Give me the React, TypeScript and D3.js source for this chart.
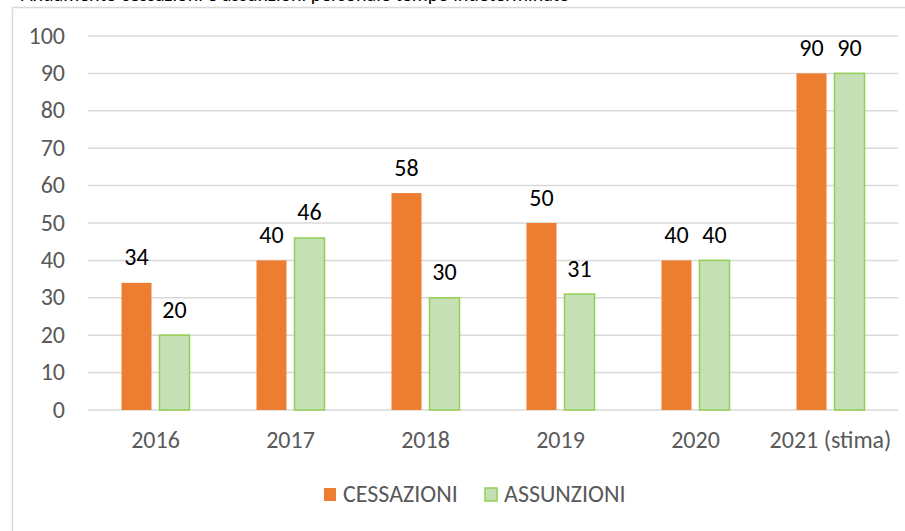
import React, { useEffect, useRef } from 'react';
import * as d3 from 'd3';

const years = ['2016', '2017', '2018', '2019', '2020', '2021 (stima)'];
const cessazioni = [34, 40, 58, 50, 40, 90];
const assunzioni = [20, 46, 30, 31, 40, 90];
const yTicks = [0, 10, 20, 30, 40, 50, 60, 70, 80, 90, 100];
const seriesNames = ['CESSAZIONI', 'ASSUNZIONI'];

const W = 905;
const H = 531;
const FONT = 'Carlito, Calibri, "Open Sans", sans-serif';
const FS = 24;

export default function App() {
    const svgRef = useRef<SVGSVGElement | null>(null);

    useEffect(() => {
        document.body.style.margin = '0';
        const svg = d3.select(svgRef.current);
        svg.selectAll('*').remove();

        // chart frame (runs off the right and bottom edges)
        svg.append('rect')
            .attr('x', 12.5).attr('y', 7.5)
            .attr('width', W).attr('height', H)
            .attr('fill', '#fff')
            .attr('stroke', '#d9d9d9')
            .attr('stroke-width', 1.5);

        // title, mostly clipped at the top
        svg.append('text')
            .attr('x', 21).attr('y', 0.5)
            .attr('font-family', FONT)
            .attr('font-size', 20)
            .attr('fill', '#000')
            .text('Andamento cessazioni e assunzioni personale tempo indeterminato');

        const x = d3.scaleBand<string>().domain(years).range([88, 898]);
        const y = d3.scaleLinear().domain([0, 100]).range([410, 36]);

        // gridlines
        svg.append('g').selectAll('line')
            .data(yTicks)
            .join('line')
            .attr('x1', 88).attr('x2', 898)
            .attr('y1', d => y(d)).attr('y2', d => y(d))
            .attr('stroke', '#d9d9d9')
            .attr('stroke-width', 1.5);

        // y tick labels
        svg.append('g').selectAll('text')
            .data(yTicks)
            .join('text')
            .attr('x', 65)
            .attr('y', d => y(d) + 7.5)
            .attr('text-anchor', 'end')
            .attr('font-family', FONT)
            .attr('font-size', FS)
            .attr('fill', '#595959')
            .text(d => d);

        const barW = 30;
        const gap = 8;
        const series = [
            { values: cessazioni, fill: '#ed7d31', stroke: 'none', off: -gap / 2 - barW },
            { values: assunzioni, fill: '#c5e0b4', stroke: '#92d050', off: gap / 2 },
        ];

        series.forEach(s => {
            const g = svg.append('g');
            g.selectAll('rect')
                .data(years)
                .join('rect')
                .attr('x', d => (x(d) ?? 0) + x.bandwidth() / 2 + s.off)
                .attr('y', (_, i) => y(s.values[i]))
                .attr('width', barW)
                .attr('height', (_, i) => y(0) - y(s.values[i]))
                .attr('fill', s.fill)
                .attr('stroke', s.stroke)
                .attr('stroke-width', 1.5);

            g.selectAll('text')
                .data(years)
                .join('text')
                .attr('x', d => (x(d) ?? 0) + x.bandwidth() / 2 + s.off + barW / 2)
                .attr('y', (_, i) => y(s.values[i]) - 17.5)
                .attr('text-anchor', 'middle')
                .attr('font-family', FONT)
                .attr('font-size', FS)
                .attr('fill', '#000')
                .text((_, i) => s.values[i]);
        });

        // x labels
        svg.append('g').selectAll('text')
            .data(years)
            .join('text')
            .attr('x', d => (x(d) ?? 0) + x.bandwidth() / 2)
            .attr('y', 448)
            .attr('text-anchor', 'middle')
            .attr('font-family', FONT)
            .attr('font-size', FS)
            .attr('fill', '#595959')
            .text(d => d);

        // legend
        const legend = [
            { name: seriesNames[0], fill: '#ed7d31', stroke: 'none', x: 324 },
            { name: seriesNames[1], fill: '#c5e0b4', stroke: '#92d050', x: 485 },
        ];
        legend.forEach(l => {
            svg.append('rect')
                .attr('x', l.x).attr('y', 488)
                .attr('width', 12).attr('height', 13)
                .attr('fill', l.fill)
                .attr('stroke', l.stroke)
                .attr('stroke-width', 1.5);
            svg.append('text')
                .attr('x', l.x + 19).attr('y', 502)
                .attr('font-family', FONT)
                .attr('font-size', FS)
                .attr('fill', '#595959')
                .text(l.name);
        });
    }, []);

    return <svg ref={svgRef} width={W} height={H} style={{ display: 'block' }} />;
}
